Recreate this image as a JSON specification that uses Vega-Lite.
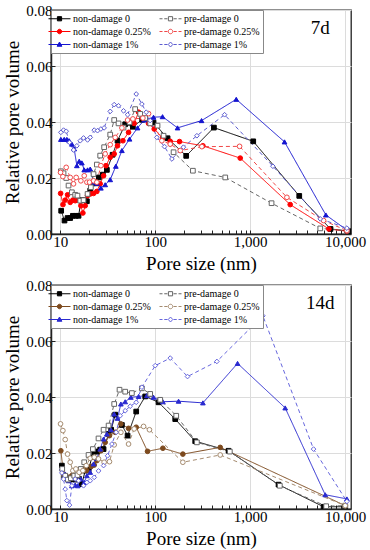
{
  "$schema": "https://vega.github.io/schema/vega-lite/v6.json",
  "padding": {"left": 3, "top": 2, "right": 6, "bottom": 2},
  "spacing": 3,
  "config": {
    "font": "Liberation Serif",
    "view": {"stroke": "#222222", "strokeWidth": 1.3},
    "axis": {
      "labelFont": "Liberation Serif", "labelFontSize": 15, "labelColor": "#000000",
      "titleFont": "Liberation Serif", "titleFontWeight": "normal", "titleColor": "#000000",
      "domainColor": "#222222", "domainWidth": 1.5, "tickColor": "#222222", "tickWidth": 1,
      "gridColor": "#dcdcdc", "gridWidth": 1, "labelFlush": false, "labelOverlap": false
    },
    "legend": {
      "orient": "top-left", "offset": 0, "columns": 2, "columnPadding": 6, "rowPadding": 2,
      "padding": 3, "strokeColor": "#888888", "fillColor": "#ffffff",
      "labelFont": "Liberation Serif", "labelFontSize": 10, "labelColor": "#000000",
      "symbolSize": 100, "symbolStrokeWidth": 1, "labelOffset": 8, "title": null
    }
  },
  "resolve": {
    "scale": {"stroke": "independent", "fill": "independent", "shape": "independent", "strokeDash": "independent"},
    "legend": {"stroke": "independent", "fill": "independent", "shape": "independent", "strokeDash": "independent"}
  },
  "datasets": {
    "d7": [
      {"series":"non-damage 0","pore":10.24,"vol":0.0083},{"series":"non-damage 0","pore":11.1,"vol":0.0048},{"series":"non-damage 0","pore":11.95,"vol":0.0057},{"series":"non-damage 0","pore":12.74,"vol":0.0057},{"series":"non-damage 0","pore":13.59,"vol":0.0065},{"series":"non-damage 0","pore":14.61,"vol":0.0065},{"series":"non-damage 0","pore":15.6,"vol":0.0065},{"series":"non-damage 0","pore":16.64,"vol":0.0121},{"series":"non-damage 0","pore":17.89,"vol":0.0121},{"series":"non-damage 0","pore":19.09,"vol":0.0117},{"series":"non-damage 0","pore":20.69,"vol":0.0155},{"series":"non-damage 0","pore":22.08,"vol":0.0181},{"series":"non-damage 0","pore":23.73,"vol":0.0181},{"series":"non-damage 0","pore":25.5,"vol":0.0202},{"series":"non-damage 0","pore":28.1,"vol":0.0212},{"series":"non-damage 0","pore":31.0,"vol":0.0229},{"series":"non-damage 0","pore":35.6,"vol":0.0283},{"series":"non-damage 0","pore":40.1,"vol":0.0333},{"series":"non-damage 0","pore":48.3,"vol":0.0392},{"series":"non-damage 0","pore":58.2,"vol":0.0383},{"series":"non-damage 0","pore":72.9,"vol":0.0408},{"series":"non-damage 0","pore":96.0,"vol":0.0398},{"series":"non-damage 0","pore":134.9,"vol":0.0342},{"series":"non-damage 0","pore":211.9,"vol":0.0279},{"series":"non-damage 0","pore":414.7,"vol":0.038},{"series":"non-damage 0","pore":1076,"vol":0.0331},{"series":"non-damage 0","pore":3281,"vol":0.0136},{"series":"non-damage 0","pore":7000,"vol":0.0018},{"series":"non-damage 0","pore":10840,"vol":0.001},
      {"series":"non-damage 0.25%","pore":10.1,"vol":0.0145},{"series":"non-damage 0.25%","pore":10.7,"vol":0.0105},{"series":"non-damage 0.25%","pore":11.3,"vol":0.0121},{"series":"non-damage 0.25%","pore":11.95,"vol":0.014},{"series":"non-damage 0.25%","pore":12.74,"vol":0.0113},{"series":"non-damage 0.25%","pore":13.59,"vol":0.0121},{"series":"non-damage 0.25%","pore":14.38,"vol":0.0119},{"series":"non-damage 0.25%","pore":15.3,"vol":0.0121},{"series":"non-damage 0.25%","pore":16.5,"vol":0.0101},{"series":"non-damage 0.25%","pore":17.33,"vol":0.0075},{"series":"non-damage 0.25%","pore":18.33,"vol":0.0101},{"series":"non-damage 0.25%","pore":19.4,"vol":0.0137},{"series":"non-damage 0.25%","pore":20.69,"vol":0.0143},{"series":"non-damage 0.25%","pore":22.43,"vol":0.0145},{"series":"non-damage 0.25%","pore":24.3,"vol":0.0152},{"series":"non-damage 0.25%","pore":26.35,"vol":0.0179},{"series":"non-damage 0.25%","pore":28.6,"vol":0.0208},{"series":"non-damage 0.25%","pore":30.3,"vol":0.0244},{"series":"non-damage 0.25%","pore":33.6,"vol":0.0274},{"series":"non-damage 0.25%","pore":37.0,"vol":0.0286},{"series":"non-damage 0.25%","pore":40.1,"vol":0.0315},{"series":"non-damage 0.25%","pore":45.7,"vol":0.0333},{"series":"non-damage 0.25%","pore":52.4,"vol":0.0363},{"series":"non-damage 0.25%","pore":60.0,"vol":0.0395},{"series":"non-damage 0.25%","pore":66.8,"vol":0.0435},{"series":"non-damage 0.25%","pore":74.1,"vol":0.0414},{"series":"non-damage 0.25%","pore":85.1,"vol":0.0395},{"series":"non-damage 0.25%","pore":97.6,"vol":0.0375},{"series":"non-damage 0.25%","pore":119.4,"vol":0.0343},{"series":"non-damage 0.25%","pore":143.9,"vol":0.0331},{"series":"non-damage 0.25%","pore":180.3,"vol":0.033},{"series":"non-damage 0.25%","pore":317.6,"vol":0.0315},{"series":"non-damage 0.25%","pore":785,"vol":0.0271},{"series":"non-damage 0.25%","pore":2636,"vol":0.0105},{"series":"non-damage 0.25%","pore":6729,"vol":0.0018},{"series":"non-damage 0.25%","pore":10410,"vol":0.001},
      {"series":"non-damage 1%","pore":10.16,"vol":0.0338},{"series":"non-damage 1%","pore":11.02,"vol":0.0338},{"series":"non-damage 1%","pore":11.75,"vol":0.0338},{"series":"non-damage 1%","pore":12.44,"vol":0.0333},{"series":"non-damage 1%","pore":13.27,"vol":0.0321},{"series":"non-damage 1%","pore":14.04,"vol":0.0304},{"series":"non-damage 1%","pore":14.97,"vol":0.0244},{"series":"non-damage 1%","pore":15.85,"vol":0.026},{"series":"non-damage 1%","pore":16.9,"vol":0.0254},{"series":"non-damage 1%","pore":17.89,"vol":0.0229},{"series":"non-damage 1%","pore":19.4,"vol":0.0229},{"series":"non-damage 1%","pore":20.69,"vol":0.0232},{"series":"non-damage 1%","pore":22.43,"vol":0.0185},{"series":"non-damage 1%","pore":24.3,"vol":0.0181},{"series":"non-damage 1%","pore":26.8,"vol":0.0164},{"series":"non-damage 1%","pore":29.75,"vol":0.0176},{"series":"non-damage 1%","pore":33.6,"vol":0.0194},{"series":"non-damage 1%","pore":38.5,"vol":0.0242},{"series":"non-damage 1%","pore":44.6,"vol":0.0298},{"series":"non-damage 1%","pore":53.7,"vol":0.0339},{"series":"non-damage 1%","pore":65.2,"vol":0.0379},{"series":"non-damage 1%","pore":76.6,"vol":0.0407},{"series":"non-damage 1%","pore":96.0,"vol":0.0417},{"series":"non-damage 1%","pore":119.4,"vol":0.0419},{"series":"non-damage 1%","pore":171.8,"vol":0.0379},{"series":"non-damage 1%","pore":307.3,"vol":0.0405},{"series":"non-damage 1%","pore":712.5,"vol":0.0481},{"series":"non-damage 1%","pore":2296,"vol":0.0329},{"series":"non-damage 1%","pore":6253,"vol":0.0068},{"series":"non-damage 1%","pore":10410,"vol":0.0014},
      {"series":"pre-damage 0","pore":10.16,"vol":0.0224},{"series":"pre-damage 0","pore":10.84,"vol":0.0217},{"series":"pre-damage 0","pore":11.56,"vol":0.02},{"series":"pre-damage 0","pore":12.24,"vol":0.0173},{"series":"pre-damage 0","pore":13.27,"vol":0.0149},{"series":"pre-damage 0","pore":14.38,"vol":0.014},{"series":"pre-damage 0","pore":15.2,"vol":0.0137},{"series":"pre-damage 0","pore":16.24,"vol":0.0119},{"series":"pre-damage 0","pore":17.6,"vol":0.0121},{"series":"pre-damage 0","pore":19.4,"vol":0.0143},{"series":"pre-damage 0","pore":21.03,"vol":0.0167},{"series":"pre-damage 0","pore":22.43,"vol":0.0214},{"series":"pre-damage 0","pore":24.3,"vol":0.0248},{"series":"pre-damage 0","pore":26.35,"vol":0.028},{"series":"pre-damage 0","pore":29.0,"vol":0.031},{"series":"pre-damage 0","pore":33.6,"vol":0.0355},{"series":"pre-damage 0","pore":37.0,"vol":0.0407},{"series":"pre-damage 0","pore":41.1,"vol":0.0395},{"series":"pre-damage 0","pore":46.4,"vol":0.038},{"series":"pre-damage 0","pore":53.7,"vol":0.0399},{"series":"pre-damage 0","pore":61.5,"vol":0.0446},{"series":"pre-damage 0","pore":69.5,"vol":0.0429},{"series":"pre-damage 0","pore":78.5,"vol":0.0414},{"series":"pre-damage 0","pore":88.5,"vol":0.0395},{"series":"pre-damage 0","pore":105.8,"vol":0.0387},{"series":"pre-damage 0","pore":122.4,"vol":0.0351},{"series":"pre-damage 0","pore":156,"vol":0.0292},{"series":"pre-damage 0","pore":249.2,"vol":0.0226},{"series":"pre-damage 0","pore":545.8,"vol":0.0202},{"series":"pre-damage 0","pore":1677,"vol":0.011},{"series":"pre-damage 0","pore":5460,"vol":0.002},{"series":"pre-damage 0","pore":10410,"vol":0.0012},
      {"series":"pre-damage 0.25%","pore":10.08,"vol":0.022},{"series":"pre-damage 0.25%","pore":10.67,"vol":0.0205},{"series":"pre-damage 0.25%","pore":11.56,"vol":0.0238},{"series":"pre-damage 0.25%","pore":12.74,"vol":0.0202},{"series":"pre-damage 0.25%","pore":13.81,"vol":0.0179},{"series":"pre-damage 0.25%","pore":14.73,"vol":0.0202},{"series":"pre-damage 0.25%","pore":16.5,"vol":0.019},{"series":"pre-damage 0.25%","pore":17.9,"vol":0.0208},{"series":"pre-damage 0.25%","pore":19.09,"vol":0.0185},{"series":"pre-damage 0.25%","pore":20.36,"vol":0.0185},{"series":"pre-damage 0.25%","pore":22.43,"vol":0.019},{"series":"pre-damage 0.25%","pore":24.3,"vol":0.0185},{"series":"pre-damage 0.25%","pore":26.8,"vol":0.0244},{"series":"pre-damage 0.25%","pore":29.75,"vol":0.0286},{"series":"pre-damage 0.25%","pore":33.6,"vol":0.0319},{"series":"pre-damage 0.25%","pore":37.9,"vol":0.0345},{"series":"pre-damage 0.25%","pore":44.6,"vol":0.0379},{"series":"pre-damage 0.25%","pore":51.2,"vol":0.0407},{"series":"pre-damage 0.25%","pore":58.2,"vol":0.0411},{"series":"pre-damage 0.25%","pore":74.1,"vol":0.0414},{"series":"pre-damage 0.25%","pore":85.1,"vol":0.043},{"series":"pre-damage 0.25%","pore":117.5,"vol":0.0333},{"series":"pre-damage 0.25%","pore":143.9,"vol":0.0321},{"series":"pre-damage 0.25%","pore":183.3,"vol":0.0298},{"series":"pre-damage 0.25%","pore":309.8,"vol":0.0312},{"series":"pre-damage 0.25%","pore":772.6,"vol":0.0313},{"series":"pre-damage 0.25%","pore":2432,"vol":0.0131},{"series":"pre-damage 0.25%","pore":5917,"vol":0.0048},{"series":"pre-damage 0.25%","pore":10410,"vol":0.0012},
      {"series":"pre-damage 1%","pore":10.16,"vol":0.0363},{"series":"pre-damage 1%","pore":10.84,"vol":0.0371},{"series":"pre-damage 1%","pore":11.56,"vol":0.0367},{"series":"pre-damage 1%","pore":12.53,"vol":0.0327},{"series":"pre-damage 1%","pore":13.81,"vol":0.03},{"series":"pre-damage 1%","pore":14.97,"vol":0.0315},{"series":"pre-damage 1%","pore":16.24,"vol":0.0333},{"series":"pre-damage 1%","pore":17.6,"vol":0.0343},{"series":"pre-damage 1%","pore":19.4,"vol":0.0336},{"series":"pre-damage 1%","pore":20.69,"vol":0.0345},{"series":"pre-damage 1%","pore":22.8,"vol":0.0371},{"series":"pre-damage 1%","pore":24.7,"vol":0.0369},{"series":"pre-damage 1%","pore":26.8,"vol":0.0375},{"series":"pre-damage 1%","pore":29.0,"vol":0.0379},{"series":"pre-damage 1%","pore":33.6,"vol":0.0438},{"series":"pre-damage 1%","pore":37.0,"vol":0.0462},{"series":"pre-damage 1%","pore":41.1,"vol":0.0458},{"series":"pre-damage 1%","pore":46.4,"vol":0.044},{"series":"pre-damage 1%","pore":51.2,"vol":0.0426},{"series":"pre-damage 1%","pore":63.1,"vol":0.05},{"series":"pre-damage 1%","pore":72.4,"vol":0.0464},{"series":"pre-damage 1%","pore":80.4,"vol":0.0435},{"series":"pre-damage 1%","pore":88.5,"vol":0.0405},{"series":"pre-damage 1%","pore":104.1,"vol":0.0345},{"series":"pre-damage 1%","pore":125.3,"vol":0.0312},{"series":"pre-damage 1%","pore":149.8,"vol":0.0268},{"series":"pre-damage 1%","pore":198,"vol":0.031},{"series":"pre-damage 1%","pore":274.6,"vol":0.0351},{"series":"pre-damage 1%","pore":537,"vol":0.0426},{"series":"pre-damage 1%","pore":1732,"vol":0.0242},{"series":"pre-damage 1%","pore":5460,"vol":0.0054},{"series":"pre-damage 1%","pore":10410,"vol":0.0021}
    ],
    "d14": [
      {"series":"non-damage 0","pore":10.41,"vol":0.0155},{"series":"non-damage 0","pore":11.02,"vol":0.0117},{"series":"non-damage 0","pore":11.75,"vol":0.011},{"series":"non-damage 0","pore":12.74,"vol":0.0105},{"series":"non-damage 0","pore":13.59,"vol":0.0107},{"series":"non-damage 0","pore":14.73,"vol":0.0105},{"series":"non-damage 0","pore":15.85,"vol":0.0107},{"series":"non-damage 0","pore":16.9,"vol":0.0089},{"series":"non-damage 0","pore":18.33,"vol":0.0137},{"series":"non-damage 0","pore":19.87,"vol":0.014},{"series":"non-damage 0","pore":21.54,"vol":0.0185},{"series":"non-damage 0","pore":22.8,"vol":0.0205},{"series":"non-damage 0","pore":24.3,"vol":0.0205},{"series":"non-damage 0","pore":26.35,"vol":0.0212},{"series":"non-damage 0","pore":28.6,"vol":0.0214},{"series":"non-damage 0","pore":32.3,"vol":0.0268},{"series":"non-damage 0","pore":34.4,"vol":0.0283},{"series":"non-damage 0","pore":37.9,"vol":0.0337},{"series":"non-damage 0","pore":44.6,"vol":0.03},{"series":"non-damage 0","pore":51.2,"vol":0.0262},{"series":"non-damage 0","pore":63.1,"vol":0.0348},{"series":"non-damage 0","pore":78.5,"vol":0.0402},{"series":"non-damage 0","pore":108.4,"vol":0.0381},{"series":"non-damage 0","pore":162.4,"vol":0.0321},{"series":"non-damage 0","pore":263.6,"vol":0.0242},{"series":"non-damage 0","pore":591.6,"vol":0.0208},{"series":"non-damage 0","pore":1986,"vol":0.0087},{"series":"non-damage 0","pore":5917,"vol":0.0008},{"series":"non-damage 0","pore":10000,"vol":0.0008},
      {"series":"non-damage 0.25%","pore":10.16,"vol":0.0208},{"series":"non-damage 0.25%","pore":10.84,"vol":0.0125},{"series":"non-damage 0.25%","pore":11.56,"vol":0.0117},{"series":"non-damage 0.25%","pore":12.44,"vol":0.0113},{"series":"non-damage 0.25%","pore":13.27,"vol":0.0119},{"series":"non-damage 0.25%","pore":14.15,"vol":0.0113},{"series":"non-damage 0.25%","pore":14.97,"vol":0.0119},{"series":"non-damage 0.25%","pore":16.24,"vol":0.0133},{"series":"non-damage 0.25%","pore":17.6,"vol":0.0143},{"series":"non-damage 0.25%","pore":19.09,"vol":0.0137},{"series":"non-damage 0.25%","pore":21.2,"vol":0.0152},{"series":"non-damage 0.25%","pore":22.8,"vol":0.0157},{"series":"non-damage 0.25%","pore":24.3,"vol":0.0173},{"series":"non-damage 0.25%","pore":26.8,"vol":0.0208},{"series":"non-damage 0.25%","pore":29.75,"vol":0.0238},{"series":"non-damage 0.25%","pore":33.0,"vol":0.0262},{"series":"non-damage 0.25%","pore":37.9,"vol":0.0274},{"series":"non-damage 0.25%","pore":43.5,"vol":0.0304},{"series":"non-damage 0.25%","pore":52.4,"vol":0.0288},{"series":"non-damage 0.25%","pore":63.1,"vol":0.0292},{"series":"non-damage 0.25%","pore":83.0,"vol":0.0206},{"series":"non-damage 0.25%","pore":120.4,"vol":0.0217},{"series":"non-damage 0.25%","pore":195.4,"vol":0.0196},{"series":"non-damage 0.25%","pore":483.4,"vol":0.022},{"series":"non-damage 0.25%","pore":10000,"vol":0.0012},
      {"series":"non-damage 1%","pore":10.41,"vol":0.0146},{"series":"non-damage 1%","pore":11.29,"vol":0.0125},{"series":"non-damage 1%","pore":12.24,"vol":0.0101},{"series":"non-damage 1%","pore":13.27,"vol":0.0083},{"series":"non-damage 1%","pore":14.38,"vol":0.0086},{"series":"non-damage 1%","pore":15.3,"vol":0.0083},{"series":"non-damage 1%","pore":16.5,"vol":0.0107},{"series":"non-damage 1%","pore":17.89,"vol":0.0095},{"series":"non-damage 1%","pore":19.09,"vol":0.0119},{"series":"non-damage 1%","pore":20.69,"vol":0.0131},{"series":"non-damage 1%","pore":22.43,"vol":0.0161},{"series":"non-damage 1%","pore":24.3,"vol":0.0181},{"series":"non-damage 1%","pore":26.35,"vol":0.0214},{"series":"non-damage 1%","pore":28.6,"vol":0.025},{"series":"non-damage 1%","pore":31.0,"vol":0.0268},{"series":"non-damage 1%","pore":34.2,"vol":0.0283},{"series":"non-damage 1%","pore":37.0,"vol":0.0339},{"series":"non-damage 1%","pore":40.1,"vol":0.0324},{"series":"non-damage 1%","pore":43.5,"vol":0.0375},{"series":"non-damage 1%","pore":48.3,"vol":0.0383},{"series":"non-damage 1%","pore":55.4,"vol":0.0399},{"series":"non-damage 1%","pore":66.8,"vol":0.0402},{"series":"non-damage 1%","pore":81.7,"vol":0.0405},{"series":"non-damage 1%","pore":96,"vol":0.0399},{"series":"non-damage 1%","pore":120.4,"vol":0.0383},{"series":"non-damage 1%","pore":176.1,"vol":0.0385},{"series":"non-damage 1%","pore":317.6,"vol":0.0379},{"series":"non-damage 1%","pore":735.6,"vol":0.052},{"series":"non-damage 1%","pore":2334,"vol":0.0361},{"series":"non-damage 1%","pore":6153,"vol":0.0051},{"series":"non-damage 1%","pore":10410,"vol":0.0036},
      {"series":"pre-damage 0","pore":10.5,"vol":0.0143},{"series":"pre-damage 0","pore":11.29,"vol":0.0119},{"series":"pre-damage 0","pore":12.04,"vol":0.0105},{"series":"pre-damage 0","pore":12.95,"vol":0.011},{"series":"pre-damage 0","pore":14.04,"vol":0.0119},{"series":"pre-damage 0","pore":15.2,"vol":0.0121},{"series":"pre-damage 0","pore":16.5,"vol":0.0143},{"series":"pre-damage 0","pore":17.89,"vol":0.0167},{"series":"pre-damage 0","pore":19.87,"vol":0.0193},{"series":"pre-damage 0","pore":22.08,"vol":0.0214},{"series":"pre-damage 0","pore":25.3,"vol":0.0252},{"series":"pre-damage 0","pore":28.6,"vol":0.0283},{"series":"pre-damage 0","pore":32.3,"vol":0.0298},{"series":"pre-damage 0","pore":37.0,"vol":0.0375},{"series":"pre-damage 0","pore":42.1,"vol":0.0426},{"series":"pre-damage 0","pore":48.3,"vol":0.0419},{"series":"pre-damage 0","pore":56.8,"vol":0.0414},{"series":"pre-damage 0","pore":72.4,"vol":0.0431},{"series":"pre-damage 0","pore":88.5,"vol":0.0411},{"series":"pre-damage 0","pore":112.9,"vol":0.039},{"series":"pre-damage 0","pore":166.4,"vol":0.0333},{"series":"pre-damage 0","pore":274.6,"vol":0.0238},{"series":"pre-damage 0","pore":610,"vol":0.0205},{"series":"pre-damage 0","pore":2050,"vol":0.0083},{"series":"pre-damage 0","pore":6300,"vol":0.001},{"series":"pre-damage 0","pore":10000,"vol":0.0012},
      {"series":"pre-damage 0.25%","pore":10.08,"vol":0.0304},{"series":"pre-damage 0.25%","pore":10.67,"vol":0.028},{"series":"pre-damage 0.25%","pore":11.29,"vol":0.0248},{"series":"pre-damage 0.25%","pore":11.95,"vol":0.0196},{"series":"pre-damage 0.25%","pore":12.74,"vol":0.0167},{"series":"pre-damage 0.25%","pore":13.59,"vol":0.0137},{"series":"pre-damage 0.25%","pore":14.61,"vol":0.0143},{"series":"pre-damage 0.25%","pore":15.85,"vol":0.0131},{"series":"pre-damage 0.25%","pore":17.33,"vol":0.0137},{"series":"pre-damage 0.25%","pore":18.79,"vol":0.0155},{"series":"pre-damage 0.25%","pore":20.69,"vol":0.0181},{"series":"pre-damage 0.25%","pore":22.8,"vol":0.0185},{"series":"pre-damage 0.25%","pore":25.3,"vol":0.0179},{"series":"pre-damage 0.25%","pore":29.0,"vol":0.0167},{"series":"pre-damage 0.25%","pore":33.0,"vol":0.0169},{"series":"pre-damage 0.25%","pore":37.0,"vol":0.0229},{"series":"pre-damage 0.25%","pore":43.5,"vol":0.0274},{"series":"pre-damage 0.25%","pore":52.4,"vol":0.0232},{"series":"pre-damage 0.25%","pore":60.0,"vol":0.0286},{"series":"pre-damage 0.25%","pore":75.4,"vol":0.0295},{"series":"pre-damage 0.25%","pore":87,"vol":0.0283},{"series":"pre-damage 0.25%","pore":195.4,"vol":0.0167},{"series":"pre-damage 0.25%","pore":483.4,"vol":0.0193},{"series":"pre-damage 0.25%","pore":10000,"vol":0.0012},
      {"series":"pre-damage 1%","pore":10.41,"vol":0.0129},{"series":"pre-damage 1%","pore":10.84,"vol":0.0107},{"series":"pre-damage 1%","pore":11.29,"vol":0.0071},{"series":"pre-damage 1%","pore":11.75,"vol":0.003},{"series":"pre-damage 1%","pore":12.53,"vol":0.0014},{"series":"pre-damage 1%","pore":13.27,"vol":0.0083},{"series":"pre-damage 1%","pore":14.38,"vol":0.0107},{"series":"pre-damage 1%","pore":15.6,"vol":0.0101},{"series":"pre-damage 1%","pore":17.6,"vol":0.0083},{"series":"pre-damage 1%","pore":19.09,"vol":0.0095},{"series":"pre-damage 1%","pore":20.69,"vol":0.0101},{"series":"pre-damage 1%","pore":22.8,"vol":0.0113},{"series":"pre-damage 1%","pore":25.3,"vol":0.0136},{"series":"pre-damage 1%","pore":28.6,"vol":0.0155},{"series":"pre-damage 1%","pore":31.5,"vol":0.019},{"series":"pre-damage 1%","pore":35.0,"vol":0.0232},{"series":"pre-damage 1%","pore":38.8,"vol":0.0274},{"series":"pre-damage 1%","pore":42.8,"vol":0.0333},{"series":"pre-damage 1%","pore":48.3,"vol":0.0351},{"series":"pre-damage 1%","pore":54.5,"vol":0.0367},{"series":"pre-damage 1%","pore":63.1,"vol":0.0381},{"series":"pre-damage 1%","pore":72.4,"vol":0.0435},{"series":"pre-damage 1%","pore":100,"vol":0.0512},{"series":"pre-damage 1%","pore":143.9,"vol":0.0539},{"series":"pre-damage 1%","pore":218.8,"vol":0.0473},{"series":"pre-damage 1%","pore":445.6,"vol":0.0527},{"series":"pre-damage 1%","pore":1358,"vol":0.069},{"series":"pre-damage 1%","pore":4641,"vol":0.0214},{"series":"pre-damage 1%","pore":10410,"vol":0.0027}
    ]
  },
  "vconcat": [
    {
      "width": 300, "height": 224,
      "layer": [
        {
          "data": {"name": "d7"},
          "mark": {"type": "line", "strokeWidth": 1, "clip": true},
          "encoding": {
            "x": {"field": "pore", "type": "quantitative",
              "scale": {"type": "log", "domain": [8, 11500], "nice": false},
              "axis": {"title": "Pore size (nm)", "titleFontSize": 19, "titlePadding": 5, "labelPadding": 4,
                "values": [10,20,30,40,50,60,70,80,90,100,200,300,400,500,600,700,800,900,1000,2000,3000,4000,5000,6000,7000,8000,9000,10000],
                "labelExpr": "indexof([10,100,1000,10000], datum.value) >= 0 ? format(datum.value, ',') : ''",
                "gridOpacity": {"condition": {"test": "indexof([10,100,1000,10000], datum.value) >= 0", "value": 1}, "value": 0},
                "tickSize": -4}},
            "y": {"field": "vol", "type": "quantitative",
              "scale": {"domain": [0, 0.08], "nice": false},
              "axis": {"title": "Relative pore volume", "titleFontSize": 19, "titlePadding": 3, "labelPadding": 3,
                "values": [0, 0.02, 0.04, 0.06, 0.08], "format": ".2f", "tickSize": -4}},
            "stroke": {"field": "series", "type": "nominal",
              "scale": {"domain": ["non-damage 0","non-damage 0.25%","non-damage 1%","pre-damage 0","pre-damage 0.25%","pre-damage 1%"],
                "range": ["#000000","#ff0000","#1515d0","#666666","#f04848","#5c5cd0"]},
              "legend": {
                "symbolType": {"expr": "{'non-damage 0':'M-2.2,0H2.2M-0.42,-0.42H0.42V0.42H-0.42Z','pre-damage 0':'M-2.2,0H-1.6M-1.25,0H-0.6M0.6,0H1.25M1.6,0H2.2M-0.42,-0.42H0.42V0.42H-0.42Z','non-damage 0.25%':'M-2.2,0H2.2M-0.45,0A0.45,0.45,0,1,0,0.45,0A0.45,0.45,0,1,0,-0.45,0Z','pre-damage 0.25%':'M-2.2,0H-1.6M-1.25,0H-0.6M0.6,0H1.25M1.6,0H2.2M-0.45,0A0.45,0.45,0,1,0,0.45,0A0.45,0.45,0,1,0,-0.45,0Z','non-damage 1%':'M-2.2,0H2.2M0,-0.5L0.48,0.35H-0.48Z','pre-damage 1%':'M-2.2,0H-1.6M-1.25,0H-0.6M0.6,0H1.25M1.6,0H2.2M0,-0.5L0.45,0L0,0.5L-0.45,0Z'}[datum.value]"}
              }},
            "strokeDash": {"field": "series", "type": "nominal",
              "scale": {"domain": ["pre-damage 1%","pre-damage 0.25%","pre-damage 0","non-damage 1%","non-damage 0.25%","non-damage 0"],
                "range": [[4,3],[4,3],[4,3],[1,0],[1,0],[1,0]]},
              "legend": null}
          }
        },
        {
          "data": {"name": "d7"},
          "mark": {"type": "point", "size": 22, "strokeWidth": 1, "opacity": 1, "clip": true},
          "encoding": {
            "x": {"field": "pore", "type": "quantitative"},
            "y": {"field": "vol", "type": "quantitative"},
            "stroke": {"field": "series", "type": "nominal"},
            "fill": {"field": "series", "type": "nominal",
              "scale": {"domain": ["non-damage 0","non-damage 0.25%","non-damage 1%","pre-damage 0","pre-damage 0.25%","pre-damage 1%"],
                "range": ["#000000","#ff0000","#1515d0","#ffffff","#ffffff","#ffffff"]},
              "legend": null},
            "shape": {"field": "series", "type": "nominal",
              "scale": {"domain": ["pre-damage 1%","pre-damage 0.25%","pre-damage 0","non-damage 1%","non-damage 0.25%","non-damage 0"],
                "range": ["diamond","circle","square","triangle-up","circle","square"]},
              "legend": null}
          }
        },
        {
          "data": {"values": [{"label": "7d"}]},
          "mark": {"type": "text", "fontSize": 19, "font": "Liberation Serif", "color": "#000000"},
          "encoding": {
            "x": {"datum": 5460, "type": "quantitative"},
            "y": {"datum": 0.0734, "type": "quantitative"},
            "text": {"field": "label"}
          }
        }
      ]
    },
    {
      "width": 300, "height": 224,
      "layer": [
        {
          "data": {"name": "d14"},
          "mark": {"type": "line", "strokeWidth": 1, "clip": true},
          "encoding": {
            "x": {"field": "pore", "type": "quantitative",
              "scale": {"type": "log", "domain": [8, 11500], "nice": false},
              "axis": {"title": "Pore size (nm)", "titleFontSize": 19, "titlePadding": 5, "labelPadding": 4,
                "values": [10,20,30,40,50,60,70,80,90,100,200,300,400,500,600,700,800,900,1000,2000,3000,4000,5000,6000,7000,8000,9000,10000],
                "labelExpr": "indexof([10,100,1000,10000], datum.value) >= 0 ? format(datum.value, ',') : ''",
                "gridOpacity": {"condition": {"test": "indexof([10,100,1000,10000], datum.value) >= 0", "value": 1}, "value": 0},
                "tickSize": -4}},
            "y": {"field": "vol", "type": "quantitative",
              "scale": {"domain": [0, 0.08], "nice": false},
              "axis": {"title": "Relative pore volume", "titleFontSize": 19, "titlePadding": 3, "labelPadding": 3,
                "values": [0, 0.02, 0.04, 0.06, 0.08], "format": ".2f", "tickSize": -4}},
            "stroke": {"field": "series", "type": "nominal",
              "scale": {"domain": ["non-damage 0","non-damage 0.25%","non-damage 1%","pre-damage 0","pre-damage 0.25%","pre-damage 1%"],
                "range": ["#000000","#7d4a1e","#2a2ad0","#666666","#a58b6f","#6666dd"]},
              "legend": {
                "symbolType": {"expr": "{'non-damage 0':'M-2.2,0H2.2M-0.42,-0.42H0.42V0.42H-0.42Z','pre-damage 0':'M-2.2,0H-1.6M-1.25,0H-0.6M0.6,0H1.25M1.6,0H2.2M-0.42,-0.42H0.42V0.42H-0.42Z','non-damage 0.25%':'M-2.2,0H2.2M-0.45,0A0.45,0.45,0,1,0,0.45,0A0.45,0.45,0,1,0,-0.45,0Z','pre-damage 0.25%':'M-2.2,0H-1.6M-1.25,0H-0.6M0.6,0H1.25M1.6,0H2.2M-0.45,0A0.45,0.45,0,1,0,0.45,0A0.45,0.45,0,1,0,-0.45,0Z','non-damage 1%':'M-2.2,0H2.2M0,-0.5L0.48,0.35H-0.48Z','pre-damage 1%':'M-2.2,0H-1.6M-1.25,0H-0.6M0.6,0H1.25M1.6,0H2.2M0,-0.5L0.45,0L0,0.5L-0.45,0Z'}[datum.value]"}
              }},
            "strokeDash": {"field": "series", "type": "nominal",
              "scale": {"domain": ["pre-damage 1%","pre-damage 0.25%","pre-damage 0","non-damage 1%","non-damage 0.25%","non-damage 0"],
                "range": [[4,3],[4,3],[4,3],[1,0],[1,0],[1,0]]},
              "legend": null}
          }
        },
        {
          "data": {"name": "d14"},
          "mark": {"type": "point", "size": 22, "strokeWidth": 1, "opacity": 1, "clip": true},
          "encoding": {
            "x": {"field": "pore", "type": "quantitative"},
            "y": {"field": "vol", "type": "quantitative"},
            "stroke": {"field": "series", "type": "nominal"},
            "fill": {"field": "series", "type": "nominal",
              "scale": {"domain": ["non-damage 0","non-damage 0.25%","non-damage 1%","pre-damage 0","pre-damage 0.25%","pre-damage 1%"],
                "range": ["#000000","#7d4a1e","#2a2ad0","#ffffff","#ffffff","#ffffff"]},
              "legend": null},
            "shape": {"field": "series", "type": "nominal",
              "scale": {"domain": ["pre-damage 1%","pre-damage 0.25%","pre-damage 0","non-damage 1%","non-damage 0.25%","non-damage 0"],
                "range": ["diamond","circle","square","triangle-up","circle","square"]},
              "legend": null}
          }
        },
        {
          "data": {"values": [{"label": "14d"}]},
          "mark": {"type": "text", "fontSize": 19, "font": "Liberation Serif", "color": "#000000"},
          "encoding": {
            "x": {"datum": 5460, "type": "quantitative"},
            "y": {"datum": 0.0734, "type": "quantitative"},
            "text": {"field": "label"}
          }
        }
      ]
    }
  ]
}
